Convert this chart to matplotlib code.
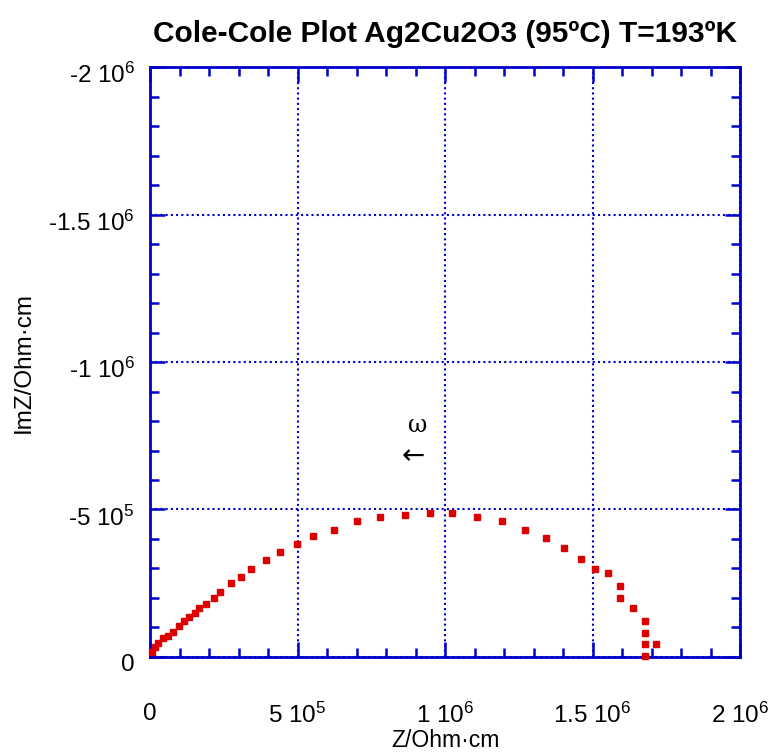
import matplotlib.pyplot as plt
from matplotlib.ticker import MultipleLocator
from matplotlib.transforms import ScaledTranslation

plt.rcParams['font.family'] = ['Liberation Sans', 'DejaVu Sans']
plt.rcParams['mathtext.default'] = 'regular'

z_real = [5.8e3, 17e3, 28e3, 43e3, 62e3, 79e3, 99e3, 116e3, 132e3, 153e3,
          167e3, 189e3, 217e3, 237e3, 274e3, 307e3, 343e3, 392e3, 442e3, 497e3,
          554e3, 625e3, 702e3, 779e3, 863e3, 948e3, 1025e3, 1110e3, 1193e3, 1271e3,
          1341e3, 1404e3, 1461e3, 1510e3, 1553e3, 1594e3, 1594e3, 1636e3, 1679e3, 1679e3,
          1679e3, 1714e3, 1679e3]
z_imag = [-18e3, -35e3, -48e3, -63e3, -72e3, -86e3, -105e3, -123e3, -137e3, -150e3,
          -165e3, -179e3, -201e3, -221e3, -250e3, -270e3, -298e3, -328e3, -355e3, -383e3,
          -411e3, -432e3, -460e3, -474e3, -481e3, -489e3, -489e3, -474e3, -460e3, -432e3,
          -403e3, -368e3, -333e3, -298e3, -285e3, -242e3, -201e3, -166e3, -123e3, -80e3,
          -45e3, -45e3, -4e3]

x_ticks = [0, 5e5, 1e6, 1.5e6, 2e6]
x_labels = ['0', '5 10$^{5}$', '1 10$^{6}$', '1.5 10$^{6}$', '2 10$^{6}$']
y_ticks = [0, -5e5, -1e6, -1.5e6, -2e6]
y_labels = ['0', '-5 10$^{5}$', '-1 10$^{6}$', '-1.5 10$^{6}$', '-2 10$^{6}$']

blue = '#0000cc'

fig = plt.figure(figsize=(7.71, 7.53), dpi=100)
ax = fig.add_axes([0.1946, 0.1275, 0.7652, 0.7835])

ax.plot(z_real, z_imag, linestyle='none', marker='s', markersize=5,
        color='#dd0000', clip_on=False, zorder=3)

ax.set_xlim(0, 2e6)
ax.set_ylim(0, -2e6)
ax.set_xticks(x_ticks)
ax.set_xticklabels(x_labels)
ax.set_yticks(y_ticks)
ax.set_yticklabels(y_labels)
ax.xaxis.set_minor_locator(MultipleLocator(1e5))
ax.yaxis.set_minor_locator(MultipleLocator(1e5))

ax.grid(True, which='major', color=blue, linestyle=(0, (1, 1.5)), linewidth=1.5)
for s in ax.spines.values():
    s.set_color(blue)
    s.set_linewidth(2)
ax.tick_params(which='both', direction='in', top=True, right=True, color=blue, width=1.8)
ax.tick_params(which='major', length=11, labelsize=17.5)
ax.tick_params(which='minor', length=6.5)
ax.tick_params(axis='x', which='major', pad=33)
ax.tick_params(axis='y', which='major', pad=11)

# y labels sit a little below their ticks in the original
shift = ScaledTranslation(0, -6 / 100, fig.dpi_scale_trans)
for lab in ax.get_yticklabels():
    lab.set_transform(lab.get_transform() + shift)

ax.set_xlabel('Z/Ohm·cm', fontsize=16.5, labelpad=1)
ax.set_ylabel('ImZ/Ohm·cm', fontsize=17.5, labelpad=10)
ax.set_title('Cole-Cole Plot Ag2Cu2O3 (95ºC) T=193ºK', fontsize=21.5,
             fontweight='bold', pad=18)

ax.text(908e3, -786e3, 'ω', fontsize=17, family=['DejaVu Serif'], ha='center', va='center')
ax.text(892e3, -681e3, '←', fontsize=20, family=['DejaVu Sans'], ha='center', va='center')

fig.savefig('out.png', dpi=100)
